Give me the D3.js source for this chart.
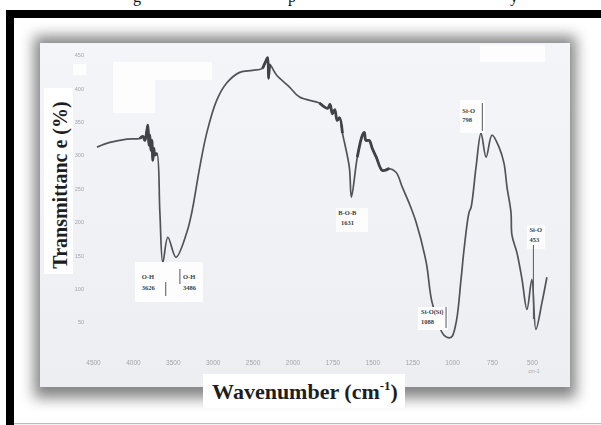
<!DOCTYPE html>
<html><head><meta charset="utf-8">
<script src="https://cdn.jsdelivr.net/npm/d3@7/dist/d3.min.js"></script>
<style>body{margin:0;background:#fff}svg{display:block}</style></head>
<body>
<svg id="chart" width="601" height="425"></svg>
<script>
// ---- data ----
const wavenumbers = [4450,4288,4075,3912,3875,3850,3825,3812,3800,3787,3775,3762,3750,3737,3725,3700,3662,3625,3562,3460,3325,3262,3162,3075,2950,2825,2662,2500,2375,2337,2312,2300,2287,2200,2037,1956,1831,1780,1765,1750,1735,1720,1705,1687,1644,1631,1594,1562,1550,1540,1519,1500,1475,1437,1394,1350,1312,1269,1225,1162,1125,1050,1006,975,944,925,894,881,850,819,787,750,706,675,656,631,625,594,562,531,500,475,437,406];
const transmittance = [312,319,324,325,328,322,337,345,315,330,307,322,292,310,300,303,214,139,177,147,184,214,282,333,382,408,424,427,430,440,446,415,436,420,402,387,378,370,376,362,368,352,356,333,282,237,297,330,334,322,322,310,297,277,280,274,252,228,199,139,79,30,27,49,114,159,214,222,282,333,297,330,312,288,252,214,180,154,114,69,114,39,79,117];
const noisyRanges = [[3912,3700],[2375,2287],[1831,1687],[1594,1394]];
const xTickValues = [4500,4000,3500,3000,2500,2000,1750,1500,1250,1000,750,500];
const yTickValues = [450,400,350,300,250,200,150,100,50];
const peakNames = ["O-H","O-H","B-O-B","Si-O(Si)","Si-O","Si-O"];
const peakWavenumbers = [3626,3486,1631,1088,798,453];
const yTitle = "Transmittanc e (%)";
const xTitle = "Wavenumber (cm";
const captionBits = ["g","p","y"];

// ---- layout ----
const svg = d3.select("#chart");
const panel = {x:40, y:43, w:530, h:344};
const xPos0 = 93, xStep = 39.9;

const defs = svg.append("defs");
const f = defs.append("filter").attr("id","sh").attr("x","-20%").attr("y","-20%").attr("width","140%").attr("height","140%");
f.append("feGaussianBlur").attr("stdDeviation",7);
const fb = defs.append("filter").attr("id","soft");
fb.append("feGaussianBlur").attr("stdDeviation",0.35);

// caption fragments (descenders of the text line above the figure)
const capX = [133,288,510];
svg.selectAll("text.cap").data(captionBits).join("text").attr("class","cap")
  .attr("x",(d,i)=>capX[i]).attr("y",2)
  .attr("font-family","Liberation Serif").attr("font-size",16).attr("fill","#111").text(d=>d);

// black frame
svg.append("rect").attr("x",6).attr("y",10).attr("width",601).attr("height",8).attr("fill","#000");
svg.append("rect").attr("x",6).attr("y",10).attr("width",8).attr("height",420).attr("fill","#000");
svg.append("rect").attr("x",14).attr("y",423).attr("width",590).attr("height",1.2).attr("fill","#bbb");

// shadow + panel
svg.append("rect").attr("x",panel.x-6).attr("y",panel.y-7).attr("width",panel.w+12).attr("height",panel.h+18)
  .attr("fill","#6e6e6e").attr("opacity",0.85).attr("filter","url(#sh)");
const grad = defs.append("linearGradient").attr("id","pg").attr("x1",0).attr("y1",0).attr("x2",0).attr("y2",1);
grad.append("stop").attr("offset","0%").attr("stop-color","#f3f5f9");
grad.append("stop").attr("offset","60%").attr("stop-color","#eff1f5");
grad.append("stop").attr("offset","100%").attr("stop-color","#eceef1");
svg.append("rect").attr("x",panel.x).attr("y",panel.y).attr("width",panel.w).attr("height",panel.h).attr("fill","url(#pg)");

// erased white patches of the scan
[[113,62,99,18],[113,80,42,33],[73,64,13,11],[480,45,65,17]].forEach(r=>
  svg.append("rect").attr("x",r[0]).attr("y",r[1]).attr("width",r[2]).attr("height",r[3]).attr("fill","#fdfdfe"));

// scales
const x = d3.scaleLinear().domain(xTickValues).range(xTickValues.map((d,i)=>xPos0+i*xStep));
const y = d3.scaleLinear().domain([450,50]).range([55,322]);

// axes
const xAxis = svg.append("g").attr("transform","translate(0,362)")
  .call(d3.axisBottom(x).tickValues(xTickValues).tickSize(0).tickFormat(d3.format("d")));
xAxis.select(".domain").remove();
xAxis.selectAll("text").attr("fill","#a3a5aa").attr("font-size",6.5).attr("font-family","Liberation Sans").attr("dy",0).attr("filter","url(#soft)");
svg.append("text").attr("x",x(500)+2).attr("y",373).attr("font-size",5).attr("fill","#a5a7ab")
  .attr("font-family","Liberation Sans").attr("text-anchor","middle").text("cm-1");

const yAxis = svg.append("g").attr("transform","translate(88,0)")
  .call(d3.axisLeft(y).tickValues(yTickValues).tickSize(0));
yAxis.select(".domain").remove();
yAxis.selectAll("text").attr("fill","#a3a5aa").attr("font-size",5.5).attr("font-family","Liberation Sans").attr("dx",-1).attr("filter","url(#soft)");

// spectrum
const pts = wavenumbers.map((w,i)=>[w,transmittance[i]]);
const line = d3.line().x(d=>x(d[0])).y(d=>y(d[1])).curve(d3.curveCatmullRom.alpha(0.5));
svg.append("path").datum(pts).attr("d",line).attr("fill","none")
  .attr("stroke","#505358").attr("stroke-width",1.7).attr("stroke-linejoin","round");
// noisy stretches of the scan look thicker and darker
noisyRanges.forEach(r=>{
  const seg = pts.filter(p=>p[0]<=r[0] && p[0]>=r[1]);
  svg.append("path").datum(seg).attr("d",line).attr("fill","none")
    .attr("stroke","#3f4247").attr("stroke-width",2.8).attr("stroke-linejoin","round");
});

// peak annotations
const annLayout = [
  {tx:-21, t1:279, t2:290, lx:3, l:[282,296], anchor:"start"},
  {tx:9, t1:279, t2:290, lx:6, l:[269,284], anchor:"start"},
  {tx:-4, t1:215, t2:225, lx:null, anchor:"middle"},
  {tx:-17, t1:314, t2:324, lx:8, l:[307,328], anchor:"start"},
  {tx:-22, t1:113, t2:122, lx:-2, l:[103,131], anchor:"start"},
  {tx:-10, t1:232, t2:242, lx:-6, l:[245,319], anchor:"start"}
];
const boxRects = [[135,262,68,40],[336,208,32,24],[418,307,30,23],[460,100,25,33],[527,225,18,24]];
boxRects.forEach(r=>svg.append("rect").attr("x",r[0]).attr("y",r[1]).attr("width",r[2]).attr("height",r[3]).attr("fill","#fdfdfe"));
peakNames.forEach((n,i)=>{
  const L = annLayout[i], cx = x(peakWavenumbers[i]);
  const g = svg.append("g").attr("font-family","Liberation Serif").attr("font-weight","bold").attr("font-size",6.5).attr("fill","#3c3e42");
  g.append("text").attr("x",cx+L.tx).attr("y",L.t1).attr("text-anchor",L.anchor).text(n);
  g.append("text").attr("x",cx+L.tx).attr("y",L.t2).attr("text-anchor",L.anchor).text(peakWavenumbers[i]);
  if(L.lx!==null) svg.append("line").attr("x1",cx+L.lx).attr("x2",cx+L.lx).attr("y1",L.l[0]).attr("y2",L.l[1])
     .attr("stroke","#55585e").attr("stroke-width",1);
});

// axis titles with white backgrounds
svg.append("rect").attr("x",44).attr("y",88).attr("width",29).attr("height",186).attr("fill","#fff");
svg.append("text").attr("transform","translate(67,185) rotate(-90)").attr("text-anchor","middle")
  .attr("font-family","Liberation Serif").attr("font-weight","bold").attr("font-size",20).attr("fill","#1e1e22").text(yTitle);
svg.append("rect").attr("x",203).attr("y",374).attr("width",202).attr("height",34).attr("fill","#fff");
const xt = svg.append("text").attr("x",305).attr("y",399).attr("text-anchor","middle")
  .attr("font-family","Liberation Serif").attr("font-weight","bold").attr("font-size",22).attr("fill","#1e1e22");
xt.append("tspan").text(xTitle);
xt.append("tspan").attr("font-size",13).attr("dy",-9).text("-1");
xt.append("tspan").attr("dy",9).text(")");
</script>
</body></html>
